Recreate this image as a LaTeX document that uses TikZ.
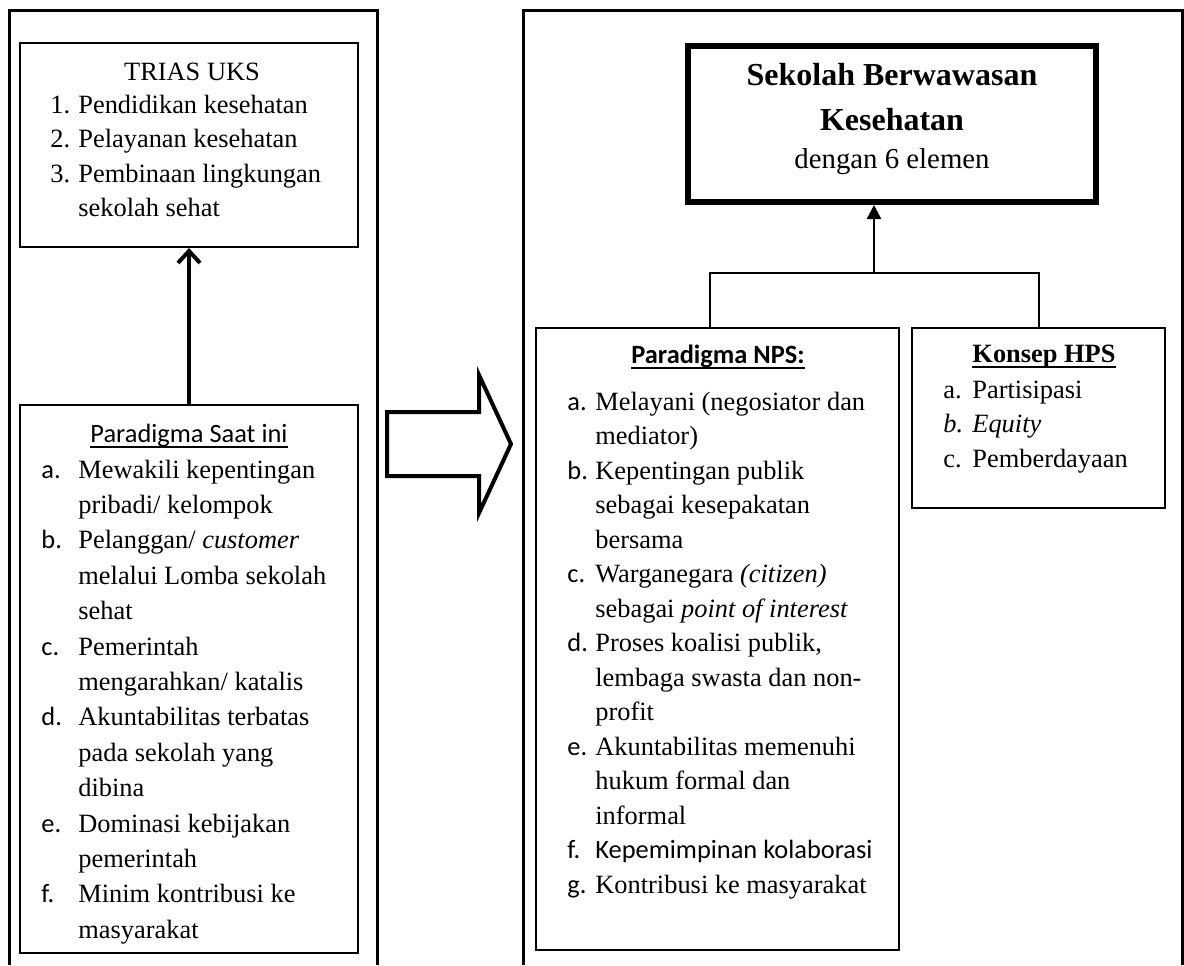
\documentclass[tikz,border=0pt]{standalone}
\usepackage{array}
\usepackage{fontspec}
\setmainfont{Liberation Serif}
\newfontfamily\calibri{Carlito}
\usepackage{tikz}
\usetikzlibrary{arrows.meta,positioning}

\newsavebox{\ulbox}
\newcommand{\undl}[1]{\sbox{\ulbox}{#1}\rlap{\rule[-3.2pt]{\wd\ulbox}{1pt}}\usebox{\ulbox}}

\begin{document}
\begin{tikzpicture}[
    x=0.5pt, y=-0.5pt,
    frame/.style={draw, line width=1.5pt},
    box/.style={rectangle, draw, line width=1pt, inner sep=0pt},
    mainbox/.style={rectangle, draw, line width=3pt, inner sep=0pt},
    txt/.style={inner sep=0pt, anchor=base west, font=\fontsize{13.2}{17.25}\selectfont},
    head/.style={inner sep=0pt, anchor=base, font=\fontsize{13.2}{17.25}\selectfont},
    link/.style={line width=1pt},
    uparrow/.style={line width=2pt, -{Straight Barb[length=6pt,width=11pt]}},
    arrow/.style={line width=1.2pt, -{Triangle[length=7pt,width=7pt]}}
]
    \useasboundingbox (0,0) rectangle (1184,965);

    % Frames
    \draw[frame] (9,965) -- (9,10) -- (377,10) -- (377,965);
    \draw[frame] (523,965) -- (523,10) -- (1182,10) -- (1182,965);

    % Left: Trias UKS
    \node[box, minimum width=169pt, minimum height=102pt] (trias) at (189,145) {};
    \node[head] (triastitle) at (192,80) {TRIAS UKS};
    \node[txt] (triaslist) at (50,113) {\begin{tabular}[t]{@{}p{14pt}@{}l@{}}
        1. & Pendidikan kesehatan\\
        2. & Pelayanan kesehatan\\
        3. & Pembinaan lingkungan\\
           & sekolah sehat
    \end{tabular}};

    % Left: current paradigm
    \node[box, minimum width=169pt, minimum height=274pt] (now) at (189,679) {};
    \node[head] (nowtitle) at (189,442) {\calibri\undl{Paradigma Saat ini}};
    \node[txt, font=\fontsize{13.2}{17.7}\selectfont] (nowlist) at (41,478) {\begin{tabular}[t]{@{}>{\calibri}p{18.5pt}@{}l@{}}
        a. & Mewakili kepentingan\\
           & pribadi/ kelompok\\
        b. & Pelanggan/ \textit{customer}\\
           & melalui Lomba sekolah\\
           & sehat\\
        c. & Pemerintah\\
           & mengarahkan/ katalis\\
        d. & Akuntabilitas terbatas\\
           & pada sekolah yang\\
           & dibina\\
        e. & Dominasi kebijakan\\
           & pemerintah\\
        f. & Minim kontribusi ke\\
           & masyarakat
    \end{tabular}};

    \draw[uparrow] (now) -- (trias);

    % Block arrow
    \draw[line width=2pt] (387,412) -- (479,412) -- (479,375) -- (511,444)
        -- (479,513) -- (479,476) -- (387,476) -- cycle;

    % Right: target
    \node[mainbox, minimum width=204pt, minimum height=78pt] (sbk) at (892,124) {};
    \node[head, font=\fontsize{16}{22.5}\selectfont\bfseries] (sbktext) at (892,85) {\begin{tabular}[t]{@{}c@{}}
        Sekolah Berwawasan\\
        Kesehatan\\[-3.5pt]
        \mdseries\fontsize{14.4}{19}\selectfont dengan 6 elemen
    \end{tabular}};

    % Right: NPS
    \node[box, minimum width=181.5pt, minimum height=311pt] (nps) at (717.5,639) {};
    \node[head] (npstitle) at (718,363) {\calibri\bfseries\undl{Paradigma NPS:}};
    \node[txt] (npslist) at (567,410) {\begin{tabular}[t]{@{}>{\calibri}p{14pt}@{}l@{}}
        a. & Melayani (negosiator dan\\
           & mediator)\\
        b. & Kepentingan publik\\
           & sebagai kesepakatan\\
           & bersama\\
        c. & Warganegara \textit{(citizen)}\\
           & sebagai \textit{point of interest}\\
        d. & Proses koalisi publik,\\
           & lembaga swasta dan non-\\
           & profit\\
        e. & Akuntabilitas memenuhi\\
           & hukum formal dan\\
           & informal\\
        f. & {\calibri Kepemimpinan kolaborasi}\\
        g. & Kontribusi ke masyarakat
    \end{tabular}};

    % Right: HPS
    \node[box, minimum width=126.5pt, minimum height=90pt] (hps) at (1038.5,418) {};
    \node[head] (hpstitle) at (1044,362) {\bfseries\undl{Konsep HPS}};
    \node[txt] (hpslist) at (943,398) {\begin{tabular}[t]{@{}p{14.5pt}@{}l@{}}
        a. & Partisipasi\\
        \textit{b.} & \textit{Equity}\\
        c. & Pemberdayaan
    \end{tabular}};

    % Connectors
    \coordinate (join) at (874,273);
    \draw[link] ([xshift=-3.75pt]nps.north) |- (join) -| (hps.north);
    \draw[arrow] (join) -- (join |- sbk.south);
\end{tikzpicture}
\end{document}
